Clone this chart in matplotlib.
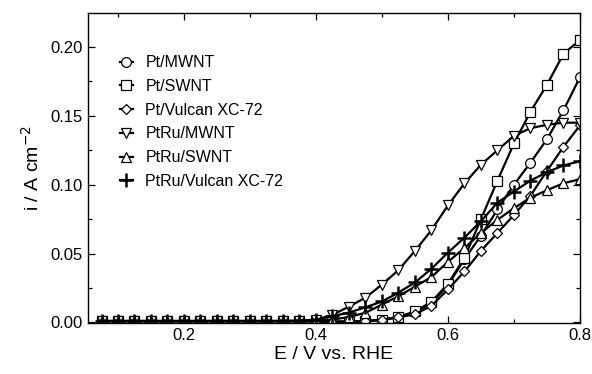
import matplotlib
matplotlib.use("Agg")
import matplotlib.pyplot as plt
from matplotlib.ticker import MultipleLocator, FormatStrFormatter

plt.rcParams['font.family'] = ['Liberation Sans', 'DejaVu Sans']

E = [0.075, 0.1, 0.125, 0.15, 0.175, 0.2, 0.225, 0.25, 0.275, 0.3,
     0.325, 0.35, 0.375, 0.4, 0.425, 0.45, 0.475, 0.5, 0.525, 0.55,
     0.575, 0.6, 0.625, 0.65, 0.675, 0.7, 0.725, 0.75, 0.775, 0.8]

pt_mwnt = [0.001, 0.001, 0.001, 0.001, 0.001, 0.001, 0.001, 0.001, 0.001, 0.001,
           0.001, 0.001, 0.001, 0.0008, 0.0006, 0.0006, 0.001, 0.0018, 0.0038, 0.0075,
           0.014, 0.027, 0.046, 0.063, 0.082, 0.100, 0.116, 0.133, 0.154, 0.178]
pt_swnt = [0.001, 0.001, 0.001, 0.001, 0.001, 0.001, 0.001, 0.001, 0.001, 0.001,
           0.001, 0.001, 0.001, 0.0008, 0.0006, 0.0006, 0.001, 0.002, 0.004, 0.008,
           0.015, 0.028, 0.047, 0.075, 0.103, 0.130, 0.153, 0.1725, 0.195, 0.205]
pt_vulcan = [0.001, 0.001, 0.001, 0.001, 0.001, 0.001, 0.001, 0.001, 0.001, 0.001,
             0.001, 0.001, 0.001, 0.0007, 0.0005, 0.0005, 0.0008, 0.002, 0.0036, 0.006,
             0.012, 0.024, 0.037, 0.052, 0.065, 0.078, 0.092, 0.110, 0.1275, 0.143]
ptru_mwnt = [0.001, 0.001, 0.001, 0.001, 0.001, 0.001, 0.001, 0.001, 0.001, 0.001,
             0.001, 0.001, 0.0012, 0.002, 0.0055, 0.0115, 0.018, 0.0275, 0.038, 0.052,
             0.067, 0.085, 0.101, 0.1145, 0.125, 0.1355, 0.141, 0.1435, 0.145, 0.145]
ptru_swnt = [0.001, 0.001, 0.001, 0.001, 0.001, 0.001, 0.001, 0.001, 0.001, 0.001,
             0.001, 0.001, 0.001, 0.0012, 0.002, 0.004, 0.007, 0.013, 0.019, 0.026,
             0.033, 0.044, 0.054, 0.065, 0.0745, 0.083, 0.0905, 0.096, 0.101, 0.104]
ptru_vulcan = [0.001, 0.001, 0.001, 0.001, 0.001, 0.001, 0.001, 0.001, 0.001, 0.001,
               0.001, 0.001, 0.0012, 0.002, 0.0045, 0.0072, 0.011, 0.0152, 0.0217, 0.029,
               0.039, 0.0507, 0.0616, 0.0735, 0.087, 0.095, 0.103, 0.109, 0.114, 0.117]

labels = ['Pt/MWNT', 'Pt/SWNT', 'Pt/Vulcan XC-72', 'PtRu/MWNT', 'PtRu/SWNT', 'PtRu/Vulcan XC-72']
series = [pt_mwnt, pt_swnt, pt_vulcan, ptru_mwnt, ptru_swnt, ptru_vulcan]
markers = ['o', 's', 'D', 'v', '^', '+']
msizes = [7, 6.5, 5.5, 7, 7, 9.5]

fig = plt.figure(figsize=(5.92, 3.74), dpi=100)
ax = fig.add_axes([0.1486, 0.1364, 0.9797 - 0.1486, 0.9652 - 0.1364])

for y, m, ms, lab in zip(series, markers, msizes, labels):
    if m == '+':
        ax.plot(E, y, color='black', lw=1.6, marker=m, ms=ms, mew=1.8,
                mec='black', label=lab)
    else:
        ax.plot(E, y, color='black', lw=1.6, marker=m, ms=ms, mew=0.9,
                mfc='white', mec='black', label=lab)

ax.set_xlim(0.0545, 0.8)
ax.set_ylim(-0.0004, 0.2246)
ax.xaxis.set_major_locator(MultipleLocator(0.2))
ax.xaxis.set_minor_locator(MultipleLocator(0.1))
ax.yaxis.set_major_locator(MultipleLocator(0.05))
ax.yaxis.set_minor_locator(MultipleLocator(0.025))
ax.xaxis.set_major_formatter(FormatStrFormatter('%.1f'))
ax.yaxis.set_major_formatter(FormatStrFormatter('%.2f'))
ax.tick_params(which='both', direction='in', top=True, right=True, labelsize=12, width=0.9)
ax.tick_params(which='major', length=5)
ax.tick_params(which='minor', length=3)
for s in ax.spines.values():
    s.set_linewidth(1.0)

ax.set_xlabel('E / V vs. RHE', fontsize=14, labelpad=2)
ax.set_ylabel('i / A cm$^{-2}$', fontsize=14, labelpad=6)

leg = ax.legend(loc='upper left', bbox_to_anchor=(0.045, 0.895), frameon=False,
                fontsize=11.5, handlelength=0.85, handletextpad=0.75,
                labelspacing=0.55, borderaxespad=0.2)

fig.savefig('out.png', dpi=100)
